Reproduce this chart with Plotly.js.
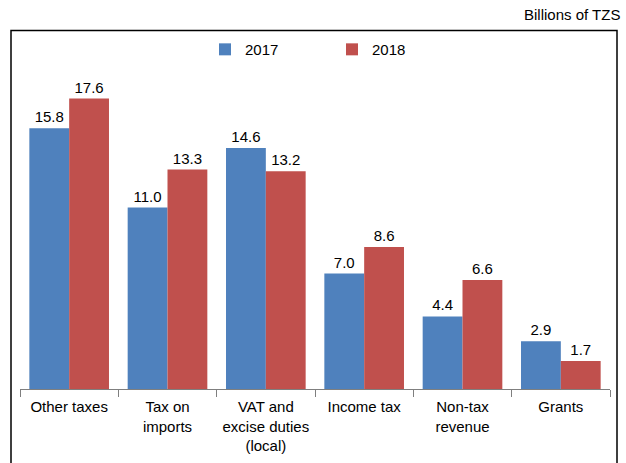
<!DOCTYPE html>
<html><head><meta charset="utf-8">
<script src="https://cdn.plot.ly/plotly-3.0.1.min.js"></script>
<style>html,body{margin:0;padding:0;background:#fff}</style>
</head><body><div id="chart" style="width:626px;height:463px"></div>
<script>
const categories = ["Other taxes", "Tax on<br>imports", "VAT and<br>excise duties<br>(local)", "Income tax", "Non-tax<br>revenue", "Grants"];
const values2017 = [15.8, 11.0, 14.6, 7.0, 4.4, 2.9];
const values2018 = [17.6, 13.3, 13.2, 8.6, 6.6, 1.7];
const seriesNames = ["2017", "2018"];
const unitLabel = "Billions of TZS";

const W = 626, H = 463;
const mL = 20, mR = 16, mT = 59.4, mB = 74;
const pw = W - mL - mR, ph = H - mT - mB;
const px = x => (x - mL) / pw;
const py = y => (H - mB - y) / ph;

const font = {family: "Liberation Sans, Arial, sans-serif", size: 15, color: "#000"};
const traces = [
  {type: "bar", name: seriesNames[0], x: categories, y: values2017,
   marker: {color: "#4F81BD"}, text: values2017.map(v => v.toFixed(1)),
   textposition: "outside", textfont: font, cliponaxis: false},
  {type: "bar", name: seriesNames[1], x: categories, y: values2018,
   marker: {color: "#C0504D"}, text: values2018.map(v => v.toFixed(1)),
   textposition: "outside", textfont: font, cliponaxis: false}
];
const layout = {
  width: W, height: H,
  margin: {l: mL, r: mR, t: mT, b: mB},
  paper_bgcolor: "#fff", plot_bgcolor: "#fff",
  font: font,
  barmode: "group", bargap: 0.19, bargroupgap: 0,
  showlegend: true,
  legend: {orientation: "h", x: px(205), y: py(50), xanchor: "left", yanchor: "middle",
           entrywidth: 82, entrywidthmode: "pixels", font: font, traceorder: "normal",
           itemwidth: 30},
  xaxis: {showline: true, linecolor: "#7f7f7f", linewidth: 1, ticks: "outside",
          tickson: "boundaries", ticklen: 7, tickcolor: "#7f7f7f", showgrid: false,
          tickfont: font, ticklabelstandoff: 4, fixedrange: true},
  yaxis: {range: [0, 20], visible: false, showgrid: false, zeroline: false, fixedrange: true},
  shapes: [
    {type: "path", xref: "paper", yref: "paper",
     path: `M ${px(11)} ${py(470)} L ${px(11)} ${py(31)} L ${px(617)} ${py(31)} L ${px(617)} ${py(470)}`,
     line: {color: "#000", width: 1.5}}
  ],
  annotations: [
    {xref: "paper", yref: "paper", x: px(622), y: py(15), xanchor: "right", yanchor: "middle",
     text: unitLabel, showarrow: false, font: font}
  ]
};
Plotly.newPlot("chart", traces, layout, {displayModeBar: false, staticPlot: true});
</script></body></html>
